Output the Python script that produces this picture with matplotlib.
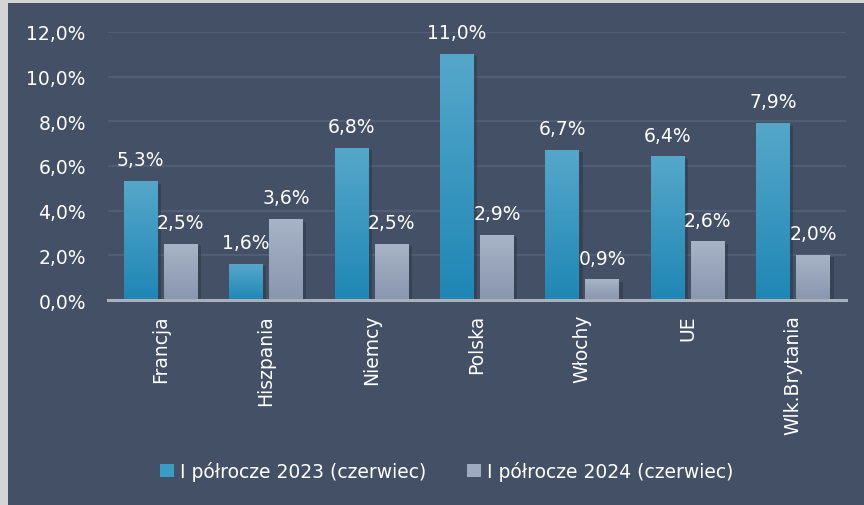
import matplotlib.pyplot as plt
import numpy as np
from matplotlib.patches import Rectangle
import matplotlib.patheffects as pe

kraje = ['Francja', 'Hiszpania', 'Niemcy', 'Polska', 'Włochy', 'UE', 'Wlk.Brytania']
h1_2023 = [5.3, 1.6, 6.8, 11.0, 6.7, 6.4, 7.9]
h1_2024 = [2.5, 3.6, 2.5, 2.9, 0.9, 2.6, 2.0]
seria = ['I półrocze 2023 (czerwiec)', 'I półrocze 2024 (czerwiec)']
yticks = [0, 2, 4, 6, 8, 10, 12]

bg = '#435066'
plt.rcParams['font.family'] = ['DejaVu Sans']

fig = plt.figure(figsize=(8.64, 5.06), dpi=100, facecolor='#d4d4d4')
fig.patches.append(Rectangle((8/864, 0), 1, 1 - 4/506, transform=fig.transFigure,
                             facecolor=bg, edgecolor='none', zorder=-10))
ax = fig.add_axes([0.125, 0.405, 0.854, 0.53])
ax.set_facecolor(bg)

def gradient_bar(x, w, h, top, bottom):
    c1 = np.array(plt.matplotlib.colors.to_rgb(top))
    c2 = np.array(plt.matplotlib.colors.to_rgb(bottom))
    t = np.linspace(0, 1, 64)[:, None]
    img = (c1 * (1 - t) + c2 * t)[:, None, :]
    # shadow
    r = Rectangle((x - w/2, 0), w, h, facecolor=bg, edgecolor='none', zorder=2,
                  path_effects=[pe.SimplePatchShadow(offset=(2.5, -1.5), shadow_rgbFace='#2e3747', alpha=0.55)])
    ax.add_patch(r)
    ax.imshow(img, extent=(x - w/2, x + w/2, 0, h), aspect='auto', zorder=3,
              interpolation='bilinear')

x = np.arange(len(kraje))
w = 0.32
off = 0.19
for i in range(len(kraje)):
    gradient_bar(x[i] - off, w, h1_2023[i], '#55a7ca', '#1f87b5')
    gradient_bar(x[i] + off, w, h1_2024[i], '#a7b3c6', '#8996ae')
    ax.text(x[i] - off, h1_2023[i] + 0.55, f'{h1_2023[i]:.1f}%'.replace('.', ','),
            ha='center', va='bottom', color='white', fontsize=13.5, zorder=5, clip_on=False)
    ax.text(x[i] + off, h1_2024[i] + 0.55, f'{h1_2024[i]:.1f}%'.replace('.', ','),
            ha='center', va='bottom', color='white', fontsize=13.5, zorder=5, clip_on=False)

ax.set_xlim(-0.5, len(kraje) - 0.5)
ax.set_ylim(0, 12)
ax.set_yticks(yticks)
ax.set_yticklabels([f'{v:.1f}%'.replace('.', ',') for v in yticks], color='white', fontsize=13.5)
ax.set_xticks(x)
ax.set_xticklabels(kraje, rotation=90, color='white', fontsize=13.5)
ax.tick_params(axis='y', length=0, pad=16)
ax.tick_params(axis='x', length=0, pad=10)
ax.grid(axis='y', color='#515d73', linewidth=1.6, zorder=1)
ax.set_axisbelow(True)
for s in ['top', 'right', 'left']:
    ax.spines[s].set_visible(False)
ax.spines['bottom'].set_color('#a9b0bb')
ax.spines['bottom'].set_linewidth(2.2)
ax.spines['bottom'].set_zorder(6)

handles = [Rectangle((0, 0), 1, 1, facecolor='#3a9cc4'), Rectangle((0, 0), 1, 1, facecolor='#9eaac0')]
leg = fig.legend(handles, seria, loc='center', bbox_to_anchor=(0.517, 0.067), ncol=2,
                 frameon=False, fontsize=13.5, handlelength=0.75, handleheight=0.75,
                 handletextpad=0.3, columnspacing=2.2, labelcolor='white')

fig.savefig('out.png', dpi=100, facecolor=fig.get_facecolor())
